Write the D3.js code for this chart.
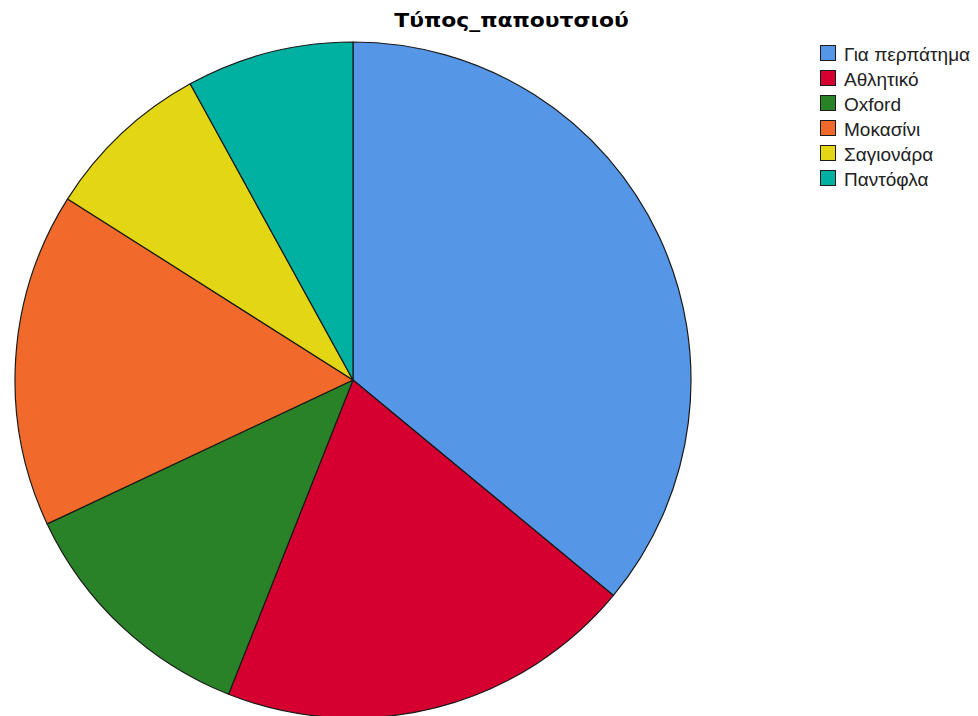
<!DOCTYPE html>
<html>
<head>
<meta charset="utf-8">
<script src="https://cdn.jsdelivr.net/npm/d3@7"></script>
<style>
  html, body { margin: 0; padding: 0; background: #ffffff; }
  svg { display: block; }
</style>
</head>
<body>
<svg id="chart" width="978" height="716"></svg>
<script>
// Shoe type counts
const categories = ["Για περπάτημα", "Αθλητικό", "Oxford", "Μοκασίνι", "Σαγιονάρα", "Παντόφλα"];
const counts = [9, 5, 3, 4, 2, 2];
const colors = ["#5596e6", "#d5002f", "#2a8228", "#f16a2b", "#e3d614", "#00b0a0"];
const title = "Τύπος_παπουτσιού";

const svg = d3.select("#chart");

const cx = 353, cy = 380, radius = 338;

const data = categories.map((c, i) => ({ name: c, value: counts[i], color: colors[i] }));

const pie = d3.pie().value(d => d.value).sort(null);
const arc = d3.arc().innerRadius(0).outerRadius(radius);

svg.append("g")
  .attr("transform", `translate(${cx},${cy})`)
  .selectAll("path")
  .data(pie(data))
  .join("path")
  .attr("d", arc)
  .attr("fill", d => d.data.color)
  .attr("stroke", "#1a1a1a")
  .attr("stroke-width", 1.2)
  .attr("stroke-linejoin", "round");

// Title: wide bold face, slightly stretched horizontally
svg.append("text")
  .attr("transform", "translate(511.5,26.5) scale(1.15,1)")
  .attr("text-anchor", "middle")
  .attr("font-family", "'DejaVu Sans', sans-serif")
  .attr("font-weight", "bold")
  .attr("font-size", 19)
  .attr("fill", "#000")
  .text(title);

const legend = svg.append("g").attr("transform", "translate(820,45)");
const rows = legend.selectAll("g")
  .data(data)
  .join("g")
  .attr("transform", (d, i) => `translate(0,${i * 25})`);

rows.append("rect")
  .attr("x", 0.5).attr("y", 0.5)
  .attr("width", 15).attr("height", 15)
  .attr("fill", d => d.color)
  .attr("stroke", "#1a1a1a")
  .attr("stroke-width", 1);

rows.append("text")
  .attr("x", 24)
  .attr("y", 15.5)
  .attr("font-family", "'Liberation Sans', Arial, sans-serif")
  .attr("font-size", 19)
  .attr("fill", "#222")
  .text(d => d.name);
</script>
</body>
</html>
